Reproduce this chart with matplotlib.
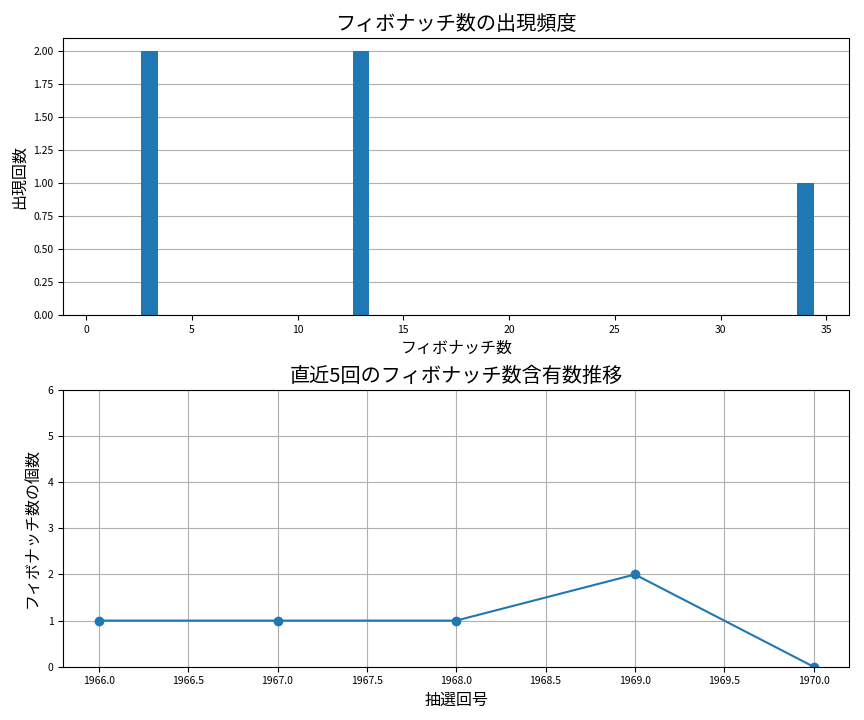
import matplotlib
matplotlib.use("Agg")
import matplotlib.pyplot as plt

plt.rcParams['font.family'] = ['Noto Sans CJK JP', 'DejaVu Sans']

# fibonacci numbers and how often each appeared
fib_numbers = [1, 2, 3, 5, 8, 13, 21, 34]
fib_counts = [0, 0, 2, 0, 0, 2, 0, 1]

# recent draws
draw_numbers = [1966, 1967, 1968, 1969, 1970]
fib_per_draw = [1, 1, 1, 2, 0]

fig, (ax1, ax2) = plt.subplots(2, 1, figsize=(8.64, 7.2), dpi=100)

ax1.bar(fib_numbers, fib_counts, color="#1f77b4", width=0.8)
ax1.set_title("フィボナッチ数の出現頻度", fontsize=14.5)
ax1.set_xlabel("フィボナッチ数", fontsize=11.5)
ax1.set_ylabel("出現回数", fontsize=11.5)
ax1.grid(axis="y")
ax1.set_axisbelow(True)
ax1.tick_params(labelsize=7.5)

ax2.plot(draw_numbers, fib_per_draw, marker="o", color="#1f77b4")
ax2.set_title("直近5回のフィボナッチ数含有数推移", fontsize=14.5)
ax2.set_xlabel("抽選回号", fontsize=11.5)
ax2.set_ylabel("フィボナッチ数の個数", fontsize=11.5)
ax2.set_ylim(0, 6)
ax2.grid(True)
ax2.tick_params(labelsize=7.5)

plt.subplots_adjust(left=0.073, right=0.983, top=0.947, bottom=0.074, hspace=0.271)
plt.savefig("out.png")
